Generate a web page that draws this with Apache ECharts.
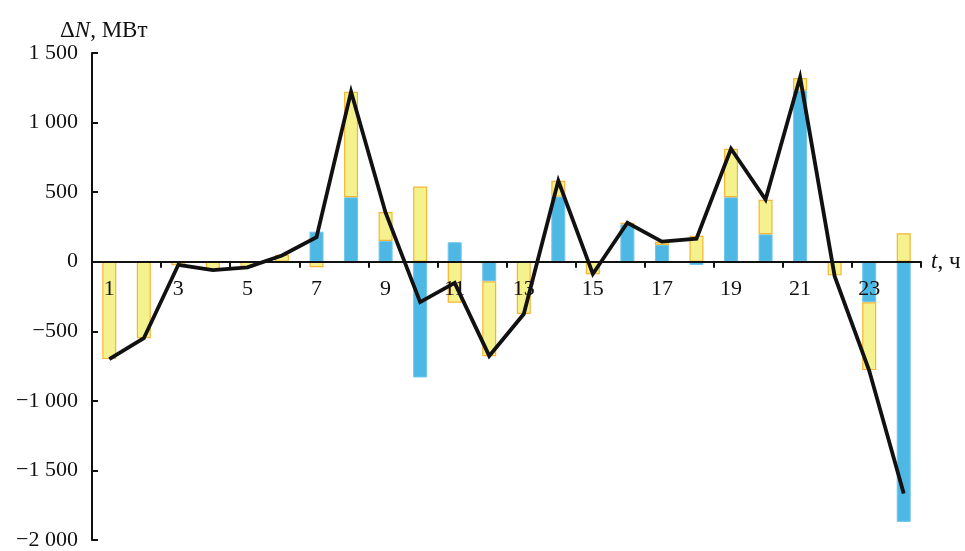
<!DOCTYPE html>
<html>
<head>
<meta charset="utf-8">
<script src="https://cdn.jsdelivr.net/npm/echarts@6/dist/echarts.min.js"></script>
<style>
  html, body { margin: 0; padding: 0; background: #fff; }
  #chart { width: 965px; height: 551px; }
</style>
</head>
<body>
<div id="chart"></div>
<script>
// Hours of the day
const hours = ['1','2','3','4','5','6','7','8','9','10','11','12',
               '13','14','15','16','17','18','19','20','21','22','23','24'];

// Blue component of the power change, MW
const blueValues = [0, 0, 0, 0, 0, 0, 216, 463, 149, -832, 140, -141,
                    0, 468, 0, 268, 120, -24, 463, 197, 1230, 0, -292, -1870];

// Yellow component of the power change, MW
const yellowValues = [-700, -550, -25, -60, -40, 50, -40, 758, 208, 540, -295, -538,
                      -376, 113, -90, 12, 24, 187, 348, 248, 90, -98, -487, 204];

// Total power change (black line), MW
const totalValues = [-700, -550, -22, -60, -40, 45, 176, 1222, 352, -290, -152, -677,
                     -376, 581, -88, 280, 144, 165, 812, 447, 1325, -104, -782, -1666];

// Y axis tick labels
const yTickValues = [-2000, -1500, -1000, -500, 0, 500, 1000, 1500];
const yTickLabels = ['−2 000', '−1 500', '−1 000', '−500', '0', '500', '1 000', '1 500'];

const yMin = -2000, yMax = 1500;
const serif = '"Liberation Serif", "DejaVu Serif", serif';

// Plot area geometry
const W = 965, H = 551;
const gridLeft = 92, gridRight = 44, gridTop = 53, gridBottom = 11;
const plotH = H - gridTop - gridBottom;
// Move the category axis from the bottom edge up to the zero line
const xAxisOffset = -plotH * (0 - yMin) / (yMax - yMin);

const labelSize = 22;
const rich = {
  a: { fontFamily: serif, fontSize: 23, fontWeight: 'normal', color: '#111' },
  i: { fontFamily: serif, fontSize: 23, fontWeight: 'normal', fontStyle: 'italic', color: '#111' }
};

const chart = echarts.init(document.getElementById('chart'));
chart.setOption({
  animation: false,
  backgroundColor: '#ffffff',
  title: {
    text: '{a|Δ}{i|N}{a|, МВт}',
    left: 55,
    top: 14,
    textStyle: { fontWeight: 'normal', rich: rich }
  },
  grid: {
    left: gridLeft, right: gridRight, top: gridTop, bottom: gridBottom,
    containLabel: false, outerBoundsMode: 'none'
  },
  xAxis: {
    type: 'category',
    data: hours,
    boundaryGap: true,
    position: 'bottom',
    offset: xAxisOffset,
    z: 3,
    name: '{i|t}{a|, ч}',
    nameLocation: 'end',
    nameGap: 10,
    nameTextStyle: { rich: rich },
    axisLine: { onZero: false, lineStyle: { color: '#111', width: 2 } },
    axisTick: { show: true, interval: 1, inside: false, length: 6, lineStyle: { color: '#111', width: 2 } },
    axisLabel: {
      interval: 1,
      margin: 17,
      fontFamily: serif,
      fontSize: labelSize,
      color: '#111'
    },
    splitLine: { show: false }
  },
  yAxis: {
    type: 'value',
    min: yMin,
    max: yMax,
    interval: 500,
    z: 3,
    axisLine: { show: true, onZero: false, lineStyle: { color: '#111', width: 2 } },
    axisTick: { show: true, inside: true, length: 6, lineStyle: { color: '#111', width: 2 } },
    axisLabel: {
      margin: 14,
      fontFamily: serif,
      fontSize: labelSize,
      color: '#111',
      formatter: function (v) {
        const i = yTickValues.indexOf(v);
        return i >= 0 ? yTickLabels[i] : '';
      }
    },
    splitLine: { show: false }
  },
  series: [
    {
      name: 'blue',
      type: 'bar',
      stack: 'dn',
      barWidth: 14,
      z: 2,
      data: blueValues,
      itemStyle: { color: '#4db8e4', borderColor: '#72c6ea', borderWidth: 1 }
    },
    {
      name: 'yellow',
      type: 'bar',
      stack: 'dn',
      barWidth: 14,
      z: 2,
      data: yellowValues,
      itemStyle: { color: '#f5f28e', borderColor: '#f5b534', borderWidth: 1.2 }
    },
    {
      name: 'total',
      type: 'line',
      z: 5,
      data: totalValues,
      symbol: 'none',
      lineStyle: { color: '#111', width: 3.8, join: 'miter' }
    }
  ]
});
</script>
</body>
</html>
